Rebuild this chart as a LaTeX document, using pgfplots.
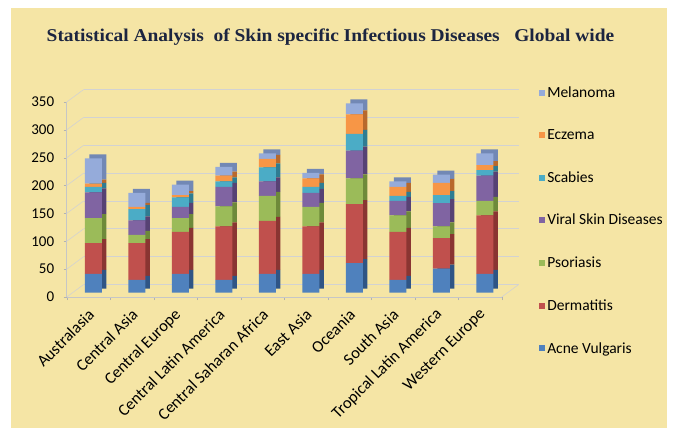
\documentclass[border=0pt]{standalone}
\usepackage{fontspec}
\setmainfont{Carlito}
\newfontfamily\titlefont{Liberation Serif}
\usepackage{pgfplots}
\usepackage{pgfplotstable}
\pgfplotsset{compat=1.18}

\definecolor{bgyellow}{HTML}{F5E5A5}
\definecolor{acne}{HTML}{4F81BD}
\definecolor{derm}{HTML}{C0504D}
\definecolor{psor}{HTML}{9BBB59}
\definecolor{viral}{HTML}{8064A2}
\definecolor{scab}{HTML}{4BACC6}
\definecolor{ecz}{HTML}{F79646}
\definecolor{mel}{HTML}{95ABDA}
\definecolor{acneD}{HTML}{2F5585}
\definecolor{dermD}{HTML}{8A3532}
\definecolor{psorD}{HTML}{6E8A3A}
\definecolor{viralD}{HTML}{574274}
\definecolor{scabD}{HTML}{2F7C92}
\definecolor{eczD}{HTML}{B8692C}
\definecolor{melD}{HTML}{7288B5}
\definecolor{titleblue}{HTML}{1C2540}

\pgfplotstableread{
x acne derm psor viral scab ecz mel
0 34 55 45 46 10 6 45
1 23 66 15 26 20 4 25
2 34 75 25 20 17 4 19
3 23 96 36 35 10 10 16
4 34 95 45 26 25 15 10
5 34 85 35 25 11 15 10
6 53 106 46 50 30 35 20
7 23 86 30 26 9 16 10
8 43 55 21 42 14 22 15
9 34 105 26 45 10 9 21
}\datatable

\pgfplotsset{
  base/.style={scale only axis, width=435pt, height=195pt,
    xmin=-0.5, xmax=9.5, ymin=0, ymax=350, anchor=south west},
  bars/.style={base, hide axis, ybar stacked, bar width=17pt,
    every axis plot/.append style={draw=none}},
}

\begin{document}
\begin{tikzpicture}
\fill[white] (0pt,0pt) rectangle (676pt,429pt);
\fill[bgyellow] (11pt,1pt) rectangle (667pt,421pt);
\node[font=\titlefont\bfseries\fontsize{18}{20}\selectfont, text=titleblue, xscale=1.08]
  at (330.5pt,392pt) {Statistical Analysis\ \ of Skin specific Infectious Diseases\ \ \ Global wide};

% back wall with grid
\begin{axis}[base, at={(83.7pt,144.5pt)},
  axis line style={draw=none}, xtick=\empty, ytick={0,50,...,350},
  yticklabels={}, major tick length=0pt,
  ymajorgrids, grid style={gray!35, line width=0.6pt}]
\addplot[draw=none] coordinates {(0,0)};
\end{axis}

% depth of the bars
\begin{axis}[bars, at={(76.2pt,140.3pt)}]
\addplot[fill=acneD] table[x=x,y=acne]{\datatable};
\addplot[fill=dermD] table[x=x,y=derm]{\datatable};
\addplot[fill=psorD] table[x=x,y=psor]{\datatable};
\addplot[fill=viralD] table[x=x,y=viral]{\datatable};
\addplot[fill=scabD] table[x=x,y=scab]{\datatable};
\addplot[fill=eczD] table[x=x,y=ecz]{\datatable};
\addplot[fill=melD] table[x=x,y=mel]{\datatable};
\end{axis}

% front faces of the bars
\begin{axis}[bars, at={(71.7pt,136.3pt)}]
\addplot[fill=acne] table[x=x,y=acne]{\datatable};
\addplot[fill=derm] table[x=x,y=derm]{\datatable};
\addplot[fill=psor] table[x=x,y=psor]{\datatable};
\addplot[fill=viral] table[x=x,y=viral]{\datatable};
\addplot[fill=scab] table[x=x,y=scab]{\datatable};
\addplot[fill=ecz] table[x=x,y=ecz]{\datatable};
\addplot[fill=mel] table[x=x,y=mel]{\datatable};
\end{axis}

% axes, labels and legend
\begin{axis}[base, at={(66.7pt,132pt)}, clip=false,
  axis x line*=bottom, axis y line*=left,
  axis line style={gray!45, line width=0.6pt},
  tick style={gray!60}, tick align=outside,
  major tick length=3pt, minor tick length=3pt,
  ytick={0,50,...,350},
  /pgf/number format/assume math mode=true,
  yticklabel style={font=\fontsize{15}{15}\selectfont, xshift=-6pt},
  xtick={0,...,9},
  xticklabels={Australasia, Central Asia, Central Europe, Central Latin America,
    Central Saharan Africa, East Asia, Oceania, South Asia,
    Tropical Latin America, Western Europe},
  major x tick style={draw=none},
  minor xtick={-0.5,0.5,...,9.5},
  xticklabel style={font=\fontsize{16.5}{16.5}\selectfont, yshift=-12pt, xshift=3pt,
    rotate=45, anchor=east, inner sep=0pt},
  legend style={draw=none, fill=none, at={(1.079,1.10)}, anchor=north west,
    font=\fontsize{15.5}{15.5}\selectfont, row sep=26.5pt, cells={anchor=west}},
  legend image code/.code={\fill[#1,draw=none] (0pt,-3pt) rectangle (6pt,3pt);},
]
\addlegendimage{fill=mel,draw=none}\addlegendentry{Melanoma}
\addlegendimage{fill=ecz,draw=none}\addlegendentry{Eczema}
\addlegendimage{fill=scab,draw=none}\addlegendentry{Scabies}
\addlegendimage{fill=viral,draw=none}\addlegendentry{Viral Skin Diseases}
\addlegendimage{fill=psor,draw=none}\addlegendentry{Psoriasis}
\addlegendimage{fill=derm,draw=none}\addlegendentry{Dermatitis}
\addlegendimage{fill=acne,draw=none}\addlegendentry{Acne Vulgaris}
\pgfplotsinvokeforeach{0,50,...,350}{
  \draw[gray!35, line width=0.6pt] (axis cs:-0.5,#1) -- ++(17pt,12.5pt);
}
\draw[gray!35, line width=0.6pt] (axis cs:9.5,0) -- ++(17pt,12.5pt);
\end{axis}
\end{tikzpicture}
\end{document}
